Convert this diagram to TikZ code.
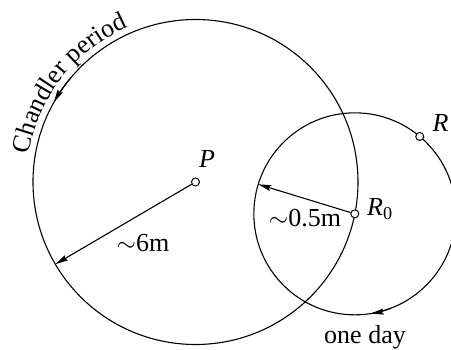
\documentclass[tikz,border=0pt]{standalone}
\usepackage{fontspec}
\setmainfont{Liberation Serif}
\usetikzlibrary{arrows.meta,decorations.text}
\tikzset{
  lbl/.style={font=\fontsize{26}{30}\selectfont, inner sep=0pt},
  dot/.style={circle, draw, fill=white, line width=1pt, inner sep=0pt, minimum size=8pt},
  orbit/.style={line width=1.1pt},
  radarrow/.style={line width=1.1pt, -{Stealth[length=13pt,width=6pt,inset=2pt]}},
}
\begin{document}
\begin{tikzpicture}[x=1pt,y=1pt]
\useasboundingbox (0,0) rectangle (451,349);
\clip (0,0) rectangle (451,349);
% centres:
\coordinate (cP) at (195.5,167);
\coordinate (cR0) at ([shift={(-11.3:162.5)}]cP);
% big and small circle:
\draw[orbit] (cP) circle[radius=162.5];
\draw[orbit] (cR0) circle[radius=101];
% sense of motion:
\draw[radarrow] ([shift={(140:162.5)}]cP) arc (140:150.6:162.5);
\draw[radarrow] ([shift={(291:101)}]cR0) arc (291:279:101);
\path[decorate, decoration={text along path, text align=center,
    text={|\fontsize{26}{30}\selectfont|Chandler period}}]
  ([shift={(176:169)}]cP) arc (176:108:169);
% points:
\node[dot] (P) at (cP) {};
\node[dot] (R0) at (cR0) {};
\node[dot] (R) at ([shift={(50:101)}]cR0) {};
\coordinate (sixtip) at ([shift={(210.4:162.5)}]cP);
\coordinate (halftip) at ([shift={(163:101)}]cR0);
\draw[radarrow] (P) -- (sixtip);
\draw[radarrow] (R0) -- (halftip);
% labels:
\node[lbl, anchor=base] (Plbl) at (207,181) {\textit{P}};
\node[lbl, anchor=base] (Rlbl) at (440.5,217) {\textit{R}};
\node[lbl, anchor=base west] (R0lbl) at (367,133.5) {\textit{R}\textsubscript{0}};
\node[lbl, anchor=base] (six) at (143,97) {$\sim$6m};
\node[lbl, anchor=base] (half) at (305,122) {$\sim$0.5m};
\node[lbl, anchor=base] (day) at (365,5.5) {one day};
\end{tikzpicture}
\end{document}
